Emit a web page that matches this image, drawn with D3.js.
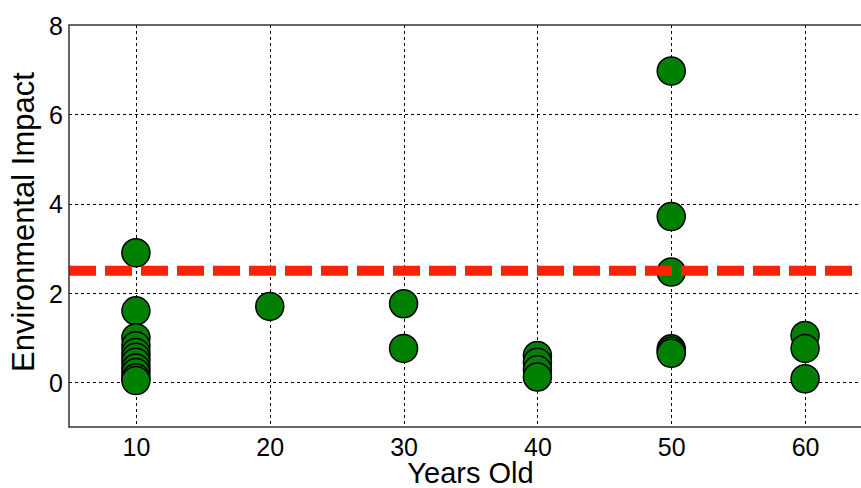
<!DOCTYPE html>
<html>
<head>
<meta charset="utf-8">
<script src="https://cdn.jsdelivr.net/npm/d3@7"></script>
<style>
  html, body { margin: 0; padding: 0; background: #fff; }
  svg { display: block; }
  text { font-family: "Liberation Sans", Arial, sans-serif; fill: #000; }
</style>
</head>
<body>
<svg id="chart" width="861" height="488"></svg>
<script>
// Data
const ages = [10,10,10,10,10,10,10,10,10,10,10,
              20,
              30,30,
              40,40,40,40,
              50,50,50,50,50,50,
              60,60,60];
const impacts = [2.9,1.6,1.0,0.82,0.67,0.56,0.45,0.32,0.22,0.1,0.04,
                 1.7,
                 1.76,0.76,
                 0.6,0.45,0.28,0.12,
                 6.97,3.71,2.47,0.75,0.7,0.65,
                 1.05,0.76,0.08];
const threshold = 2.5;
const xTicks = [10,20,30,40,50,60];
const yTicks = [0,2,4,6,8];
const xLabel = "Years Old";
const yLabel = "Environmental Impact";

const W = 861, H = 488;
const pL = 69, pT = 25, pR = 872, pB = 427;

const svg = d3.select("#chart");
const x = d3.scaleLinear().domain([5, 65]).range([pL, pR]);
const y = d3.scaleLinear().domain([-1, 8]).range([pB, pT]);

svg.append("defs").append("clipPath").attr("id", "clip")
  .append("rect").attr("x", pL).attr("y", pT).attr("width", pR - pL).attr("height", pB - pT);

// Grid
const grid = svg.append("g");
grid.selectAll(".vg").data(xTicks).join("line")
  .attr("x1", d => Math.round(x(d)) + 0.5).attr("x2", d => Math.round(x(d)) + 0.5)
  .attr("y1", pT).attr("y2", pB)
  .attr("stroke", "#000").attr("stroke-width", 1).attr("stroke-dasharray", "3,3");
grid.selectAll(".hg").data(yTicks.filter(d => d !== 8)).join("line")
  .attr("y1", d => Math.round(y(d)) + 0.5).attr("y2", d => Math.round(y(d)) + 0.5)
  .attr("x1", pL).attr("x2", W)
  .attr("stroke", "#000").attr("stroke-width", 1).attr("stroke-dasharray", "3,3");

// Axes (labels only)
const xAxis = d3.axisBottom(x).tickValues(xTicks).tickSize(0).tickPadding(10);
const gx = svg.append("g").attr("transform", `translate(0,${pB})`).call(xAxis);
gx.select(".domain").remove();
gx.selectAll("text").style("font-size", "25px").attr("dy", "0.75em");

const yAxis = d3.axisLeft(y).tickValues(yTicks).tickSize(0).tickPadding(6);
const gy = svg.append("g").attr("transform", `translate(${pL},0)`).call(yAxis);
gy.select(".domain").remove();
gy.selectAll("text").style("font-size", "25px").attr("dy", "0.36em");

// Points
const pts = ages.map((a, i) => ({a, v: impacts[i]}));
svg.append("g").attr("clip-path", "url(#clip)")
  .selectAll("circle").data(pts).join("circle")
  .attr("cx", d => x(d.a)).attr("cy", d => y(d.v)).attr("r", 14)
  .attr("fill", "#008000").attr("stroke", "#000").attr("stroke-width", 1.5);

// Threshold line
svg.append("line")
  .attr("x1", pL).attr("x2", W)
  .attr("y1", y(threshold)).attr("y2", y(threshold))
  .attr("stroke", "#ff2200").attr("stroke-width", 10).attr("stroke-dasharray", "27,9");

// Frame
svg.append("path")
  .attr("d", `M${W},${pT}H${pL}V${pB}H${W}`)
  .attr("fill", "none").attr("stroke", "#333").attr("stroke-width", 1.5);

// Labels
svg.append("text").attr("x", (pL + pR) / 2).attr("y", 483)
  .attr("text-anchor", "middle").style("font-size", "29px").text(xLabel);
svg.append("text").attr("transform", `translate(34,${(pT + pB) / 2 - 4}) rotate(-90)`)
  .attr("text-anchor", "middle").style("font-size", "31px").text(yLabel);
</script>
</body>
</html>
